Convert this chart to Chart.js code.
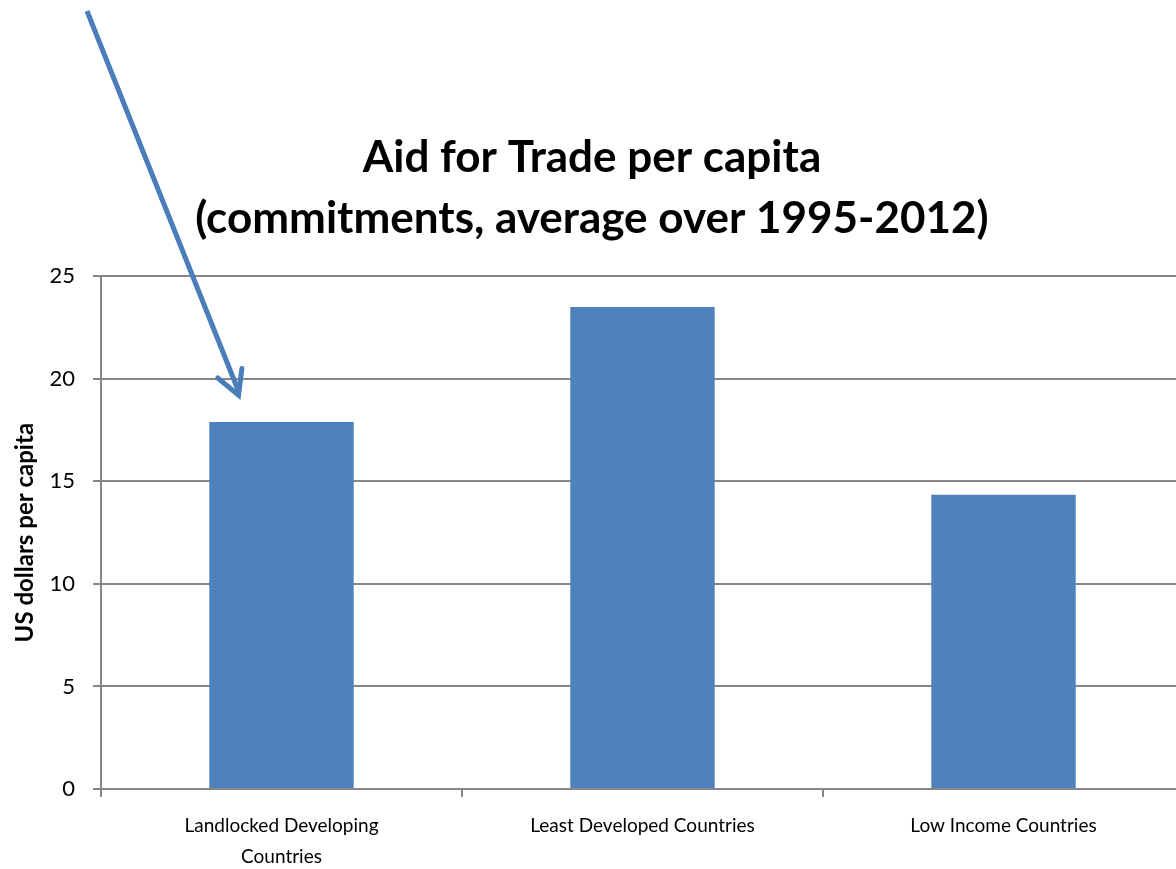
<!DOCTYPE html>
<html>
<head>
<meta charset="utf-8">
<script src="https://cdn.jsdelivr.net/npm/chart.js@4.4.0/dist/chart.umd.min.js"></script>
<style>
html,body{margin:0;padding:0;background:#fff;overflow:hidden;}
#wrap{width:1190px;height:869px;position:relative;}
</style>
</head>
<body>
<div id="wrap"><canvas id="c"></canvas></div>
<script>
const categories = [["Landlocked Developing", "Countries"], "Least Developed Countries", "Low Income Countries"];
const aidPerCapita = [17.9, 23.5, 14.35];
const titleLines = ["Aid for Trade per capita", "(commitments, average over 1995-2012)"];
const yAxisTitle = "US dollars per capita";
const yMin = 0, yMax = 25, yStep = 5;
// arrow annotation: points at first bar, tip expressed in data terms
const arrowTarget = {index: 0, value: 19.2, categoryOffset: -0.119};

const gridGrey = '#868686';

const arrowPlugin = {
  id: 'arrow',
  afterDraw(chart) {
    const x = chart.scales.x, y = chart.scales.y;
    const catW = (x.right - x.left) / categories.length;
    const tx = x.getPixelForValue(arrowTarget.index) + arrowTarget.categoryOffset * catW;
    const ty = y.getPixelForValue(arrowTarget.value);
    const sx = 87, sy = 11;
    const ctx = chart.ctx;
    ctx.save();
    ctx.strokeStyle = '#4a7ebb';
    ctx.lineWidth = 5;
    ctx.lineCap = 'butt';
    ctx.beginPath();
    ctx.moveTo(sx, sy);
    ctx.lineTo(tx, ty - 4);
    ctx.stroke();
    const ang = Math.atan2(ty - sy, tx - sx);
    const len = 27, spread = 0.5;
    ctx.lineCap = 'round';
    ctx.lineJoin = 'miter';
    ctx.beginPath();
    ctx.moveTo(tx - len * Math.cos(ang - spread), ty - len * Math.sin(ang - spread));
    ctx.lineTo(tx, ty);
    ctx.lineTo(tx - len * Math.cos(ang + spread), ty - len * Math.sin(ang + spread));
    ctx.stroke();
    ctx.restore();
  }
};

new Chart(document.getElementById('c'), {
  type: 'bar',
  data: {
    labels: categories,
    datasets: [{
      data: aidPerCapita,
      backgroundColor: '#4f81bd',
      borderWidth: 0,
      barPercentage: 0.4,
      categoryPercentage: 1.0
    }]
  },
  options: {
    responsive: true,
    maintainAspectRatio: false,
    animation: false,
    layout: {padding: {left: 0, right: 6, top: 0, bottom: 0}},
    plugins: {
      legend: {display: false},
      tooltip: {enabled: false},
      title: {
        display: true,
        text: titleLines,
        color: '#000',
        font: {family: 'Lato', size: 44, weight: 'bold', lineHeight: 1.39},
        padding: {top: 127, bottom: 27}
      }
    },
    scales: {
      x: {
        offset: true,
        afterFit(scale) { scale.height = 80; },
        grid: {display: true, drawOnChartArea: false, offset: true, drawTicks: true, tickLength: 8, color: gridGrey, lineWidth: 2},
        border: {display: true, color: gridGrey, width: 2},
        ticks: {color: '#000', font: {family: 'Lato', size: 19, lineHeight: 1.6}, padding: 14, maxRotation: 0, autoSkip: false}
      },
      y: {
        min: yMin, max: yMax,
        afterFit(scale) { scale.width = 101; },
        grid: {color: gridGrey, lineWidth: 2, drawTicks: true, tickLength: 8},
        border: {display: true, color: gridGrey, width: 2},
        ticks: {stepSize: yStep, color: '#000', font: {family: 'Lato', size: 22}, padding: 18},
        title: {display: true, text: yAxisTitle, color: '#000', font: {family: 'Lato', size: 24, weight: 'bold', lineHeight: 1.2}, padding: {top: 11, bottom: 0}}
      }
    }
  },
  plugins: [arrowPlugin]
});
</script>
</body>
</html>
